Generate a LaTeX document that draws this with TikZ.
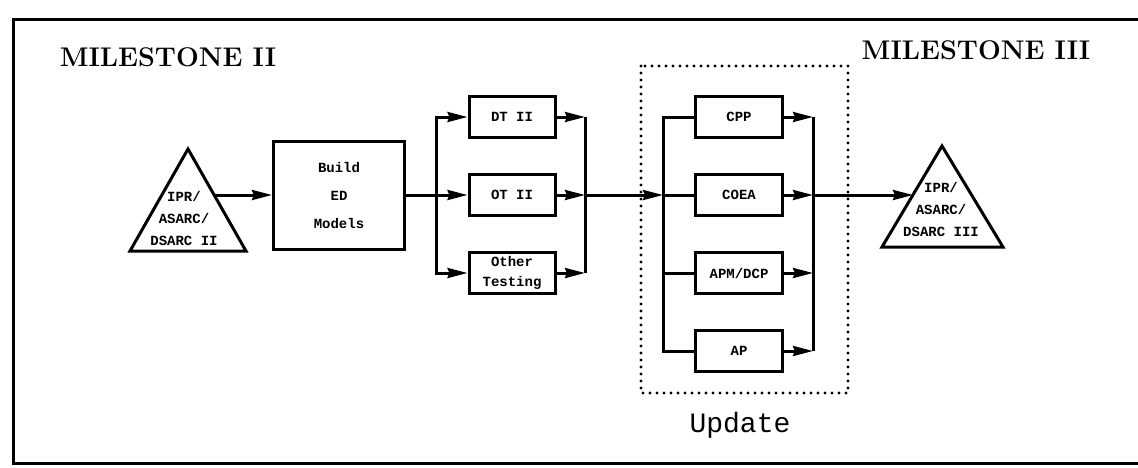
\documentclass[tikz,border=0pt]{standalone}
\usepackage{fontspec}
\usetikzlibrary{arrows.meta,positioning,calc}
\newfontfamily\boxfont{Liberation Mono}
\tikzset{
  box/.style={draw,line width=3pt,minimum width=86pt,minimum height=41pt,inner sep=2pt,align=center,font=\boxfont\bfseries\fontsize{14}{20}\selectfont},
  tritext/.style={align=center,inner sep=0pt,font=\boxfont\bfseries\fontsize{14}{22}\selectfont},
  ln/.style={line width=3pt},
  ar/.style={ln,-{Stealth[length=20pt,width=10pt,inset=2pt]}},
  tri/.style={line width=3pt,line join=miter},
  dotln/.style={line width=3.4pt,line cap=round,dash pattern=on 0pt off 7pt},
  mile/.style={font=\bfseries\fontsize{27}{30}\selectfont},
}
\begin{document}
\begin{tikzpicture}[x=1pt,y=-1pt,node distance=34pt]
\useasboundingbox (0,0) rectangle (1138,467);
% frame and headings
\draw[ln] (1140,19) -- (13,19) -- (13,463) -- (1140,463);
\node[mile] (mstwo) at (168,57) {MILESTONE II};
\node[mile] (msthree) at (976,50) {MILESTONE III};
% review triangles
\draw[tri] (130,251) -- (188,149) -- (246,251) -- cycle;
\node[tritext] (revtwo) at (184,218) {IPR/\\ASARC/\\DSARC II};
\coordinate (revtwoout) at (214,195);
\draw[tri] (882,247) -- (942,146) -- (1003,247) -- cycle;
\node[tritext] (revthree) at (941,209) {IPR/\\ASARC/\\DSARC III};
\coordinate (revthreein) at (913,195);
% models and testing
\node[box,minimum width=131pt,minimum height=108pt,font=\boxfont\bfseries\fontsize{14}{28}\selectfont] (build) at (339,195) {Build\\ED\\Models};
\node[box] (ot) at (512,195) {OT II};
\node[box,above=of ot] (dt) {DT II};
\node[box,below=of ot] (oth) {Other\\Testing};
\coordinate (jl) at (436,195);
\coordinate (jr) at (585,195);
\draw[ar] (revtwoout) -- (build);
\draw[ln] (build) -- (jl);
\draw[ar] (jl) |- (dt.west);
\draw[ar] (jl) -- (ot);
\draw[ar] (jl) |- (oth.west);
\draw[ar] (dt) -- (dt -| jr);
\draw[ar] (ot) -- (jr);
\draw[ar] (oth) -- (oth -| jr);
\draw[ln] (jr |- dt) -- (jr |- oth);
% update block
\node[box,minimum width=87pt] (coea) at (739,195) {COEA};
\node[box,minimum width=87pt,above=of coea] (cpp) {CPP};
\node[box,minimum width=87pt,below=of coea] (apm) {APM/DCP};
\node[box,minimum width=87pt,below=of apm] (ap) {AP};
\coordinate (ul) at (663,195);
\coordinate (ur) at (813,195);
\draw[ar] (jr) -- (ul);
\draw[ln] (cpp.west) -| (ul |- ap) -- (ap.west);
\draw[ln] (ul) -- (coea);
\draw[ln] (ul |- apm) -- (apm);
\foreach \n in {cpp,coea,apm,ap}
  \draw[ar] (\n) -- (\n -| ur);
\draw[ln] (ur |- cpp) -- (ur |- ap);
\draw[ar] (ur) -- (revthreein);
\draw[dotln] (641,66) rectangle (848,393);
\node[font=\boxfont\fontsize{28}{30}\selectfont] (upd) at (740,425) {Update};
\end{tikzpicture}
\end{document}
